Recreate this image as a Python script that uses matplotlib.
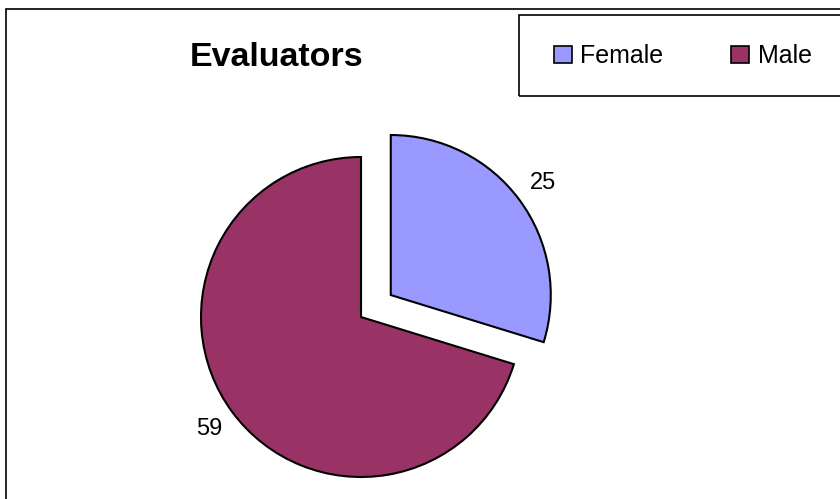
import matplotlib
matplotlib.use("Agg")
import matplotlib.pyplot as plt
from matplotlib.patches import Rectangle

categories = ["Female", "Male"]
values = [25, 59]
colors = ["#9999FF", "#993366"]
title = "Evaluators"

plt.rcParams['font.family'] = ['Liberation Sans', 'DejaVu Sans']

W, H = 840, 499
fig = plt.figure(figsize=(W / 100, H / 100), dpi=100)
fig.patch.set_facecolor("white")

ax = fig.add_axes([0, 0, 1, 1])

radius = 160
wedges, texts = ax.pie(
    values,
    labels=[str(v) for v in values],
    colors=colors,
    explode=[37, 0],
    startangle=90,
    counterclock=False,
    center=(361, H - 317),
    radius=radius,
    labeldistance=1.18,
    wedgeprops=dict(edgecolor="black", linewidth=1.5),
    textprops=dict(fontsize=17, color="black"),
    frame=True,
)
for t in texts:
    t.set_horizontalalignment("center")
ax.set_xlim(0, W)
ax.set_ylim(0, H)
ax.set_aspect("equal")
ax.axis("off")

# outer frame (right/bottom edges fall outside the image)
fig.patches.append(Rectangle((6 / W, -0.05), 1.05, 1 - 9 / H + 0.05,
                             transform=fig.transFigure, fill=False,
                             edgecolor="black", linewidth=1.2))
# legend frame
fig.patches.append(Rectangle((519 / W, 1 - 96 / H), 0.5, 81 / H,
                             transform=fig.transFigure, fill=False,
                             edgecolor="black", linewidth=1.2))

fig.text(277 / W, 1 - 57 / H, title, fontsize=24.5, fontweight="bold",
         ha="center", va="center")

leg = fig.legend(wedges, categories, loc="center left",
                 bbox_to_anchor=(554 / W, 1 - 56 / H), frameon=False,
                 ncol=2, fontsize=18, handlelength=0.7, handleheight=0.7,
                 handletextpad=0.36, columnspacing=2.7, borderpad=0,
                 borderaxespad=0)
for h in leg.legend_handles:
    h.set_linewidth(1.2)
    h.set_edgecolor("black")

fig.savefig("out.png", dpi=100)
